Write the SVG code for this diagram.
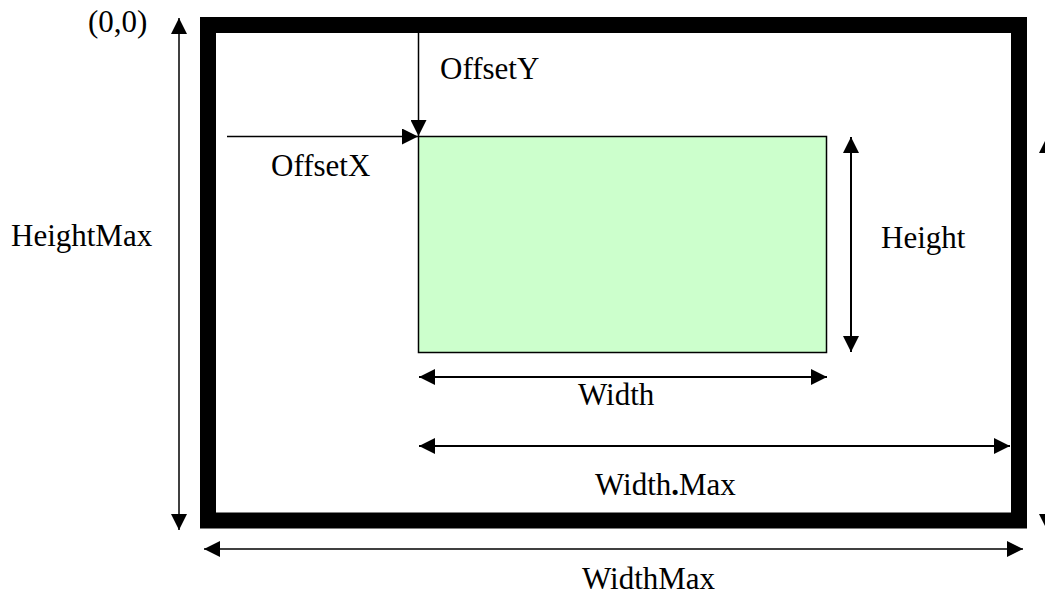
<svg xmlns="http://www.w3.org/2000/svg" width="1045" height="596" viewBox="0 0 1045 596">
<style>
text{font-family:"Liberation Serif","Times New Roman",serif;font-size:31px;fill:#000}
.thin{stroke:#000;stroke-width:1.5;fill:none}
.med{stroke:#000;stroke-width:2;fill:none}
</style>
<defs>
<marker id="ah" markerUnits="userSpaceOnUse" markerWidth="16" markerHeight="16" refX="16" refY="8" orient="auto-start-reverse" viewBox="0 0 16 16">
<path d="M0,0 L16,8 L0,16 z" fill="#000"/>
</marker>
</defs>
<rect width="1045" height="596" fill="#fff"/>
<g id="frame">
<rect x="208" y="25" width="811" height="495.5" fill="#fff" stroke="#000" stroke-width="16"/>
</g>
<g id="area">
<rect x="418.5" y="136.5" width="408" height="216" fill="#CCFFCC" stroke="#000" stroke-width="1.5"/>
</g>
<g id="connectors">
<line class="thin" x1="179" y1="18" x2="179" y2="530" marker-start="url(#ah)" marker-end="url(#ah)"/>
<line class="thin" x1="204" y1="549" x2="1023" y2="549" marker-start="url(#ah)" marker-end="url(#ah)"/>
<line class="thin" x1="418.5" y1="17" x2="418.5" y2="136" marker-end="url(#ah)"/>
<line class="thin" x1="227" y1="136.5" x2="418" y2="136.5" marker-end="url(#ah)"/>
<line class="med" x1="851" y1="137" x2="851" y2="352" marker-start="url(#ah)" marker-end="url(#ah)"/>
<line class="med" x1="419" y1="377" x2="827" y2="377" marker-start="url(#ah)" marker-end="url(#ah)"/>
<line class="med" x1="419" y1="446" x2="1010" y2="446" marker-start="url(#ah)" marker-end="url(#ah)"/>
<line class="med" x1="1047" y1="137" x2="1047" y2="530" marker-start="url(#ah)" marker-end="url(#ah)"/>
</g>
<g id="labels">
<text x="88" y="32">(0,0)</text>
<text x="440" y="79">OffsetY</text>
<text x="271" y="176">OffsetX</text>
<text x="11" y="246">HeightMax</text>
<text x="881" y="248">Height</text>
<text x="578" y="405">Width</text>
<text x="595" y="495">Width<tspan font-weight="bold">.</tspan>Max</text>
<text x="582" y="589">WidthMax</text>
</g>
</svg>
